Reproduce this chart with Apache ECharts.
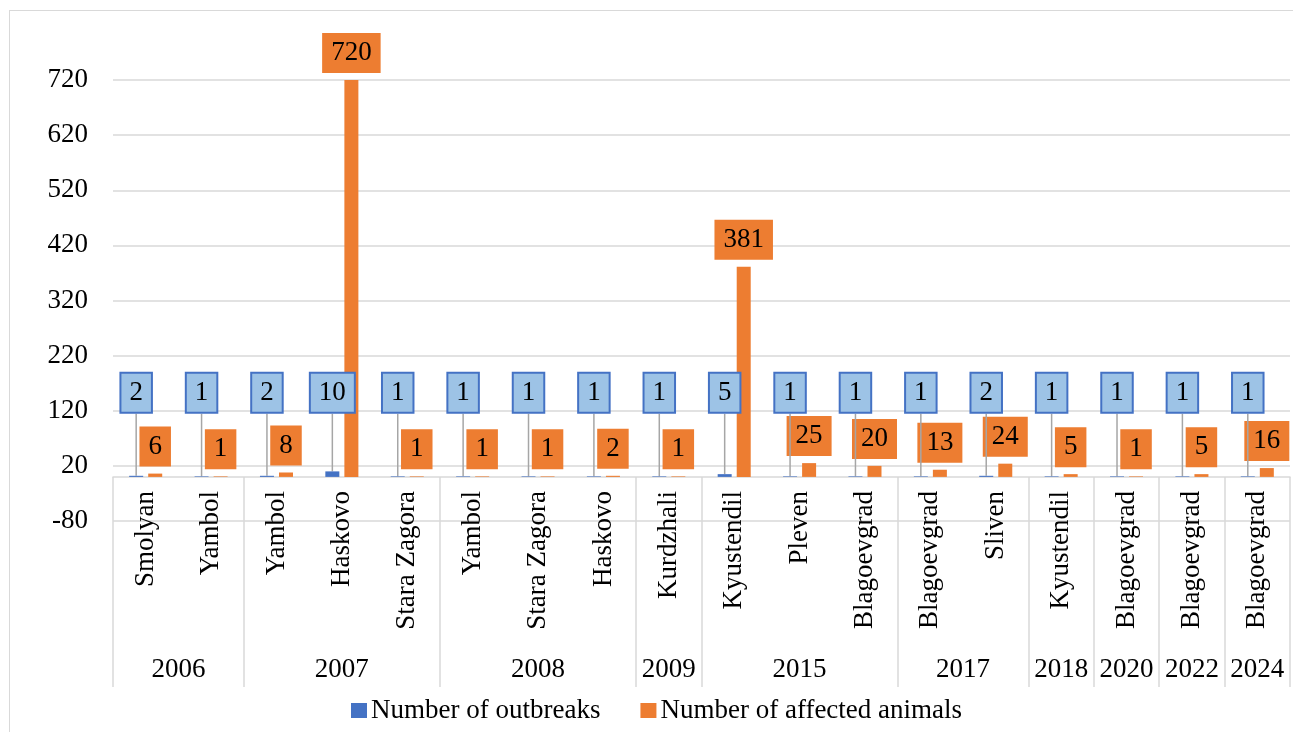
<!DOCTYPE html>
<html><head><meta charset="utf-8">
<script src="https://cdn.jsdelivr.net/npm/echarts@6/dist/echarts.min.js"></script>
<style>
html,body{margin:0;padding:0;background:#fff;overflow:hidden;}
#frame{position:absolute;left:9px;top:10px;width:1400px;height:740px;border:1px solid #d9d9d9;box-sizing:border-box;}
#chart{position:absolute;left:0;top:0;width:1293px;height:732px;}
</style></head><body>
<div id="frame"></div>
<div id="chart"></div>
<script>
const regions = ['Smolyan','Yambol','Yambol','Haskovo','Stara Zagora','Yambol','Stara Zagora','Haskovo','Kurdzhali','Kyustendil','Pleven','Blagoevgrad','Blagoevgrad','Sliven','Kyustendil','Blagoevgrad','Blagoevgrad','Blagoevgrad'];
const yearLabels = ['2006','2007','2008','2009','2015','2017','2018','2020','2022','2024'];
const yearCounts = [2,3,3,1,3,2,1,1,1,1];
const outbreaks = [2,1,2,10,1,1,1,1,1,5,1,1,1,2,1,1,1,1];
const animals = [6,1,8,720,1,1,1,2,1,381,25,20,13,24,5,1,5,16];
const yMin = -80, yMax = 720, yStep = 100;
const seriesNames = ['Number of outbreaks','Number of affected animals'];

// build half-step slots for the year (group) axis
const slots = new Array(regions.length * 2 + 1).fill('');
const boundaries = new Set([0]);
let start = 0;
yearLabels.forEach((y, i) => {
  slots[2 * start + yearCounts[i]] = y;
  start += yearCounts[i];
  boundaries.add(2 * start);
});

const FONT = 'Liberation Serif';
const FS = 27;
const TXT = '#000';
const GRID_C = '#d9d9d9';

const chart = echarts.init(document.getElementById('chart'), null, {renderer: 'canvas'});

const calloutValue = 118; // bottom of blue callouts placed at this axis value
function blueLayout(p) {
  let y;
  try { y = chart.convertToPixel({yAxisIndex: 0}, calloutValue); } catch (e) { y = null; }
  if (y == null || isNaN(y)) {
    const v = outbreaks[p.dataIndex];
    const zeroY = p.rect.y + p.rect.height;
    y = zeroY - calloutValue * (p.rect.height / v);
  }
  return { y: y, verticalAlign: 'bottom', align: 'center' };
}

chart.setOption({
  animation: false,
  textStyle: {fontFamily: FONT, color: TXT},
  grid: {left: 113, top: 80, width: 1188, height: 441, containLabel: false},
  legend: {
    left: 346, top: 692, icon: 'rect', itemWidth: 16, itemHeight: 15, itemGap: 40,
    textStyle: {fontFamily: FONT, fontSize: FS, color: TXT, padding: [0, 0, 0, -1]},
    data: seriesNames
  },
  xAxis: [
    {
      type: 'category', data: regions, position: 'bottom',
      axisLine: {show: true, onZero: true, lineStyle: {color: GRID_C, width: 1.5}},
      axisTick: {show: false},
      axisLabel: {interval: 0, rotate: 90, margin: -30, fontFamily: FONT, fontSize: FS, color: TXT},
      splitLine: {show: false}
    },
    {
      type: 'category', data: slots, position: 'bottom', boundaryGap: false,
      axisLine: {show: false, onZero: true, onZeroAxisIndex: 0},
      axisTick: {show: true, length: 210, interval: (idx) => boundaries.has(idx), lineStyle: {color: GRID_C, width: 1.5}},
      axisLabel: {interval: 0, margin: 135, fontFamily: FONT, fontSize: FS, color: TXT},
      splitLine: {show: false}
    }
  ],
  yAxis: {
    type: 'value', min: yMin, max: yMax, interval: yStep,
    axisLine: {show: false}, axisTick: {show: false},
    axisLabel: {margin: 25, fontFamily: FONT, fontSize: FS, color: TXT},
    splitLine: {show: true, lineStyle: {color: GRID_C, width: 1.5}}
  },
  series: [
    {
      name: seriesNames[0], type: 'bar', xAxisIndex: 0, yAxisIndex: 0,
      data: outbreaks, barWidth: 14, barGap: '36%',
      itemStyle: {color: '#4472c4'},
      label: {
        show: true, position: 'top', distance: 5,
        fontFamily: FONT, fontSize: FS, color: TXT, lineHeight: 30,
        backgroundColor: '#9dc3e6', borderColor: '#4472c4', borderWidth: 2,
        padding: [4, 8, 4, 8]
      },
      labelLine: {show: true, lineStyle: {color: '#a6a6a6', width: 1.5}},
      labelLayout: blueLayout,
      z: 3
    },
    {
      name: seriesNames[1], type: 'bar', xAxisIndex: 0, yAxisIndex: 0,
      data: animals, barWidth: 14, barGap: '36%',
      itemStyle: {color: '#ed7d31'},
      label: {
        show: true, position: 'top', distance: 7,
        fontFamily: FONT, fontSize: FS, color: TXT, lineHeight: 30,
        backgroundColor: '#ed7d31', padding: [5, 9, 5, 9]
      },
      z: 2
    }
  ]
});
</script>
</body></html>
